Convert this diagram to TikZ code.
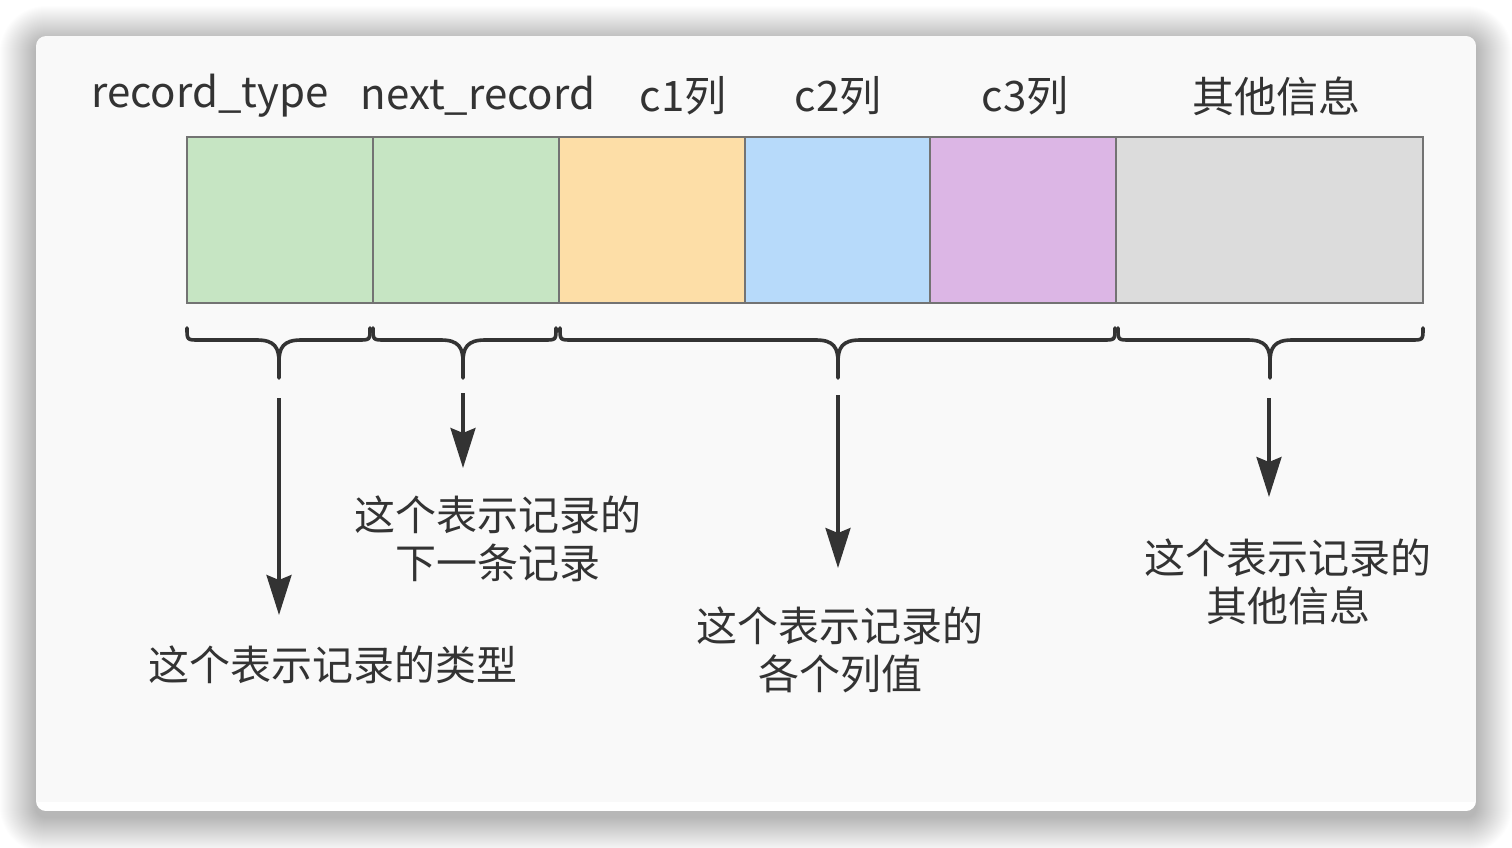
\documentclass[tikz,border=0pt]{standalone}
\usepackage{fontspec}
\setmainfont{Noto Sans CJK SC}
\usetikzlibrary{arrows.meta,calc}

\definecolor{ink}{HTML}{333333}
\definecolor{edge}{HTML}{737373}
\definecolor{cardbg}{HTML}{F9F9F9}
\definecolor{cgreen}{HTML}{C6E5C3}
\definecolor{corange}{HTML}{FDDEA7}
\definecolor{cblue}{HTML}{B7DAFA}
\definecolor{cpurple}{HTML}{DCB6E5}
\definecolor{cgray}{HTML}{DCDCDC}

% curly brace under a run of cells: left end, tip, right end
\newcommand{\curlybrace}[3]{%
  \draw[bracestyle] (#1,328) .. controls (#1,340) .. (#1+12,340) -- (#2-22,340)
    .. controls (#2-4,340) and (#2,348) .. (#2,362) -- (#2,378);
  \draw[bracestyle] (#2,362) .. controls (#2,348) and (#2+4,340) .. (#2+22,340)
    -- (#3-12,340) .. controls (#3,340) .. (#3,328);
}

\begin{document}
\begin{tikzpicture}[x=1pt,y=-1pt,
  cell/.style={draw=edge, line width=2pt, minimum height=166pt, inner sep=0pt,
    outer sep=0pt, anchor=west},
  hdr/.style={text=ink, font=\fontsize{42}{48}\selectfont, inner sep=0pt},
  note/.style={text=ink, font=\fontsize{41}{48}\selectfont, align=center, inner sep=0pt},
  bracestyle/.style={draw=ink, line width=3.6pt, line cap=round},
  arrow/.style={draw=ink, line width=3.2pt, -{Stealth[length=40pt,width=25pt,inset=5pt]}}]

\useasboundingbox (0,0) rectangle (1512,848);
\fill[white] (0,0) rectangle (1512,848);

% soft drop shadow around the card
\foreach \i [evaluate=\i as \r using 10+\i] in {1,...,36}
  \fill[black, opacity=0.006, rounded corners=\r pt]
    (36-\i,36-\i+6) rectangle (1476+\i,811+\i+6);

% card
\begin{scope}
  \clip[rounded corners=10pt] (36,36) rectangle (1476,811);
  \fill[cardbg] (36,36) rectangle (1476,802);
  \fill[white] (36,802) rectangle (1476,811);
\end{scope}

% record cells
\node[cell, fill=cgreen,  minimum width=186pt] (rt) at (187,220) {};
\node[cell, fill=cgreen,  minimum width=186pt] (nr) at (rt.east) {};
\node[cell, fill=corange, minimum width=186pt] (c1) at (nr.east) {};
\node[cell, fill=cblue,   minimum width=185pt] (c2) at (c1.east) {};
\node[cell, fill=cpurple, minimum width=186pt] (c3) at (c2.east) {};
\node[cell, fill=cgray,   minimum width=307pt] (ot) at (c3.east) {};

% column headers
\node[hdr] (hrt) at (210,96) {record\_type};
\node[hdr] (hnr) at (478,96) {next\_record};
\node[hdr] (hc1) at (683,96) {c1列};
\node[hdr] (hc2) at (838,96) {c2列};
\node[hdr] (hc3) at (1025,96) {c3列};
\node[hdr] (hot) at (1276,96) {其他信息};

% braces
\curlybrace{187}{279}{370}
\curlybrace{373}{463}{556}
\curlybrace{560}{838}{1115}
\curlybrace{1118}{1270}{1423}

% descriptions
\node[note] (t1) at (333,665) {这个表示记录的类型};
\node[note] (t2) at (498,539) {这个表示记录的\\下一条记录};
\node[note] (t3) at (840,650) {这个表示记录的\\各个列值};
\node[note] (t4) at (1288,582) {这个表示记录的\\其他信息};

% arrows from braces to descriptions
\coordinate (a1s) at (279,398); \coordinate (a1e) at (279,615);
\coordinate (a2s) at (463,393); \coordinate (a2e) at (463,468);
\coordinate (a3s) at (838,395); \coordinate (a3e) at (838,568);
\coordinate (a4s) at (1269,398); \coordinate (a4e) at (1269,497);
\draw[arrow] (a1s) -- (a1e);
\draw[arrow] (a2s) -- (a2e);
\draw[arrow] (a3s) -- (a3e);
\draw[arrow] (a4s) -- (a4e);
\end{tikzpicture}
\end{document}
